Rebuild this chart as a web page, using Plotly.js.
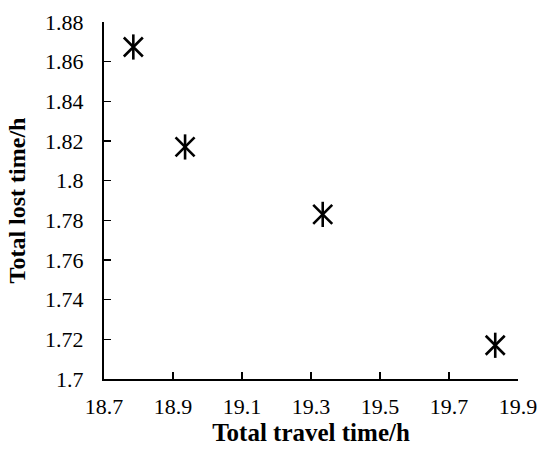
<!DOCTYPE html>
<html>
<head>
<meta charset="utf-8">
<script src="https://cdn.plot.ly/plotly-3.0.1.min.js"></script>
<style>html,body{margin:0;padding:0;background:#fff;}#chart{width:550px;height:451px;}</style>
</head>
<body>
<div id="chart"></div>
<script>
const travelTime = [18.785, 18.935, 19.334, 19.834];
const lostTime = [1.8674, 1.817, 1.783, 1.717];
const xTicks = [18.7, 18.9, 19.1, 19.3, 19.5, 19.7, 19.9];
const xTickText = ['18.7', '18.9', '19.1', '19.3', '19.5', '19.7', '19.9'];
const yTicks = [1.7, 1.72, 1.74, 1.76, 1.78, 1.8, 1.82, 1.84, 1.86, 1.88];
const yTickText = ['1.7', '1.72', '1.74', '1.76', '1.78', '1.8', '1.82', '1.84', '1.86', '1.88'];

const markerLine = {color: '#000', width: 2.6};
const traces = [
  {x: travelTime, y: lostTime, mode: 'markers', type: 'scatter',
   marker: {symbol: 'x-thin-open', size: 19, color: '#000', line: markerLine}, hoverinfo: 'x+y'},
  {x: travelTime, y: lostTime, mode: 'markers', type: 'scatter',
   marker: {symbol: 'line-ns-open', size: 18, color: '#000', line: markerLine}, hoverinfo: 'skip'}
];

const FAM = 'Times New Roman, Liberation Serif, Tinos, serif';
const layout = {
  width: 550, height: 451,
  margin: {l: 104, r: 32, t: 22, b: 72},
  paper_bgcolor: '#fff', plot_bgcolor: '#fff',
  showlegend: false,
  font: {family: FAM, size: 22, color: '#000'},
  xaxis: {
    range: [18.7, 19.9], tickvals: xTicks, ticktext: xTickText,
    showgrid: false, zeroline: false, showline: true, linecolor: '#000', linewidth: 2,
    ticks: 'inside', ticklen: 7, tickwidth: 1.5, tickcolor: '#000',
    ticklabelstandoff: 7,
    tickfont: {family: FAM, size: 22, color: '#000'},
    title: {text: 'Total travel time/h', font: {family: FAM, size: 25, weight: 'bold', color: '#000'}, standoff: 2}
  },
  yaxis: {
    range: [1.7, 1.88], tickvals: yTicks, ticktext: yTickText,
    showgrid: false, zeroline: false, showline: true, linecolor: '#000', linewidth: 2,
    ticks: 'inside', ticklen: 7, tickwidth: 1.5, tickcolor: '#000',
    ticklabelstandoff: 14,
    tickfont: {family: FAM, size: 22, color: '#000'},
    title: {text: 'Total lost time/h', font: {family: FAM, size: 24, weight: 'bold', color: '#000'}, standoff: 13}
  }
};
Plotly.newPlot('chart', traces, layout, {displayModeBar: false, staticPlot: true});
</script>
</body>
</html>
